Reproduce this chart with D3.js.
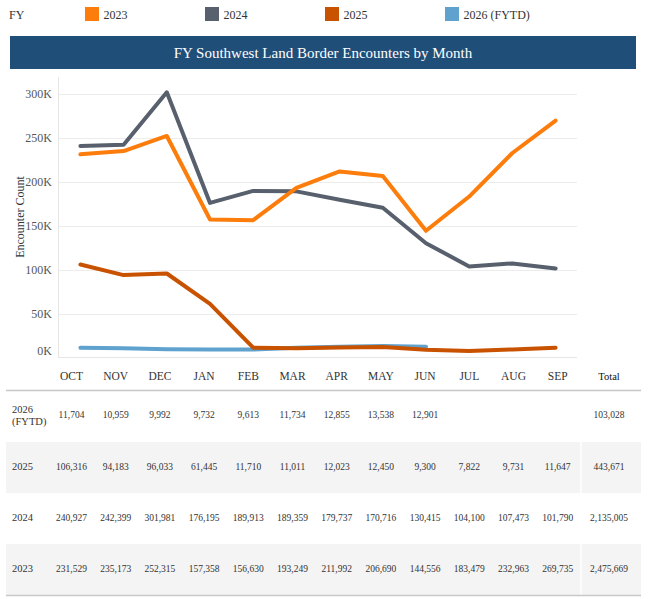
<!DOCTYPE html>
<html>
<head>
<meta charset="utf-8">
<script src="https://cdn.jsdelivr.net/npm/d3@7/dist/d3.min.js"></script>
<style>
  html, body { margin: 0; padding: 0; background: #fff; }
  svg { display: block; }
  svg text { font-family: 'Liberation Serif', Tinos, 'Times New Roman', Times, 'DejaVu Serif', serif; }
</style>
</head>
<body>
<svg id="chart" width="649" height="599" font-family="'Liberation Serif', Tinos, 'Times New Roman', Times, 'DejaVu Serif', serif"></svg>
<script>
// ---- data ----
const months = ["OCT","NOV","DEC","JAN","FEB","MAR","APR","MAY","JUN","JUL","AUG","SEP"];
const fyLabels = ["2023","2024","2025","2026 (FYTD)"];
const fyColors = ["#fc7d0b","#57606c","#c85200","#5fa2ce"];
const fy2023 = [231529,235173,252315,157358,156630,193249,211992,206690,144556,183479,232963,269735];
const fy2024 = [240927,242399,301981,176195,189913,189359,179737,170716,130415,104100,107473,101790];
const fy2025 = [106316,94183,96033,61445,11710,11011,12023,12450,9300,7822,9731,11647];
const fy2026 = [11704,10959,9992,9732,9613,11734,12855,13538,12901];
const totals2023 = 2475669, totals2024 = 2135005, totals2025 = 443671, totals2026 = 103028;
const yTickValues = [0,50000,100000,150000,200000,250000,300000];
const yTickLabels = ["0K","50K","100K","150K","200K","250K","300K"];
const tableRowOrder = ["2026 (FYTD)","2025","2024","2023"];

const seriesByFY = {
  "2023": fy2023, "2024": fy2024, "2025": fy2025, "2026 (FYTD)": fy2026
};
const totalsByFY = {
  "2023": totals2023, "2024": totals2024, "2025": totals2025, "2026 (FYTD)": totals2026
};

const FONT = "'Liberation Serif', Tinos, 'Times New Roman', Times, 'DejaVu Serif', serif";
const svg = d3.select("#chart");
const color = d3.scaleOrdinal().domain(fyLabels).range(fyColors);

// ---- legend ----
const legend = svg.append("g");
legend.append("text").attr("x", 9).attr("y", 18.5).attr("font-size", 12).attr("fill", "#333").text("FY");
const legX = d3.scalePoint().domain(fyLabels).range([85, 445]);
const li = legend.selectAll("g.li").data(fyLabels).join("g").attr("class","li")
  .attr("transform", d => `translate(${legX(d)},7)`);
li.append("rect").attr("width", 14).attr("height", 14).attr("fill", d => color(d));
li.append("text").attr("x", 18.5).attr("y", 11.5).attr("font-size", 12).attr("fill", "#333").text(d => d);

// ---- title band ----
svg.append("rect").attr("x", 10).attr("y", 36).attr("width", 626).attr("height", 33).attr("fill", "#1f4e79");
svg.append("text").attr("x", 323).attr("y", 57.5).attr("text-anchor", "middle")
  .attr("font-size", 15).attr("fill", "#fff").text("FY Southwest Land Border Encounters by Month");

// ---- scales ----
const x = d3.scalePoint().domain(months).range([80.4, 555.6]);
const xCol = d3.scalePoint().domain(months).range([71.5, 557.7]);
const y = d3.scaleLinear().domain([0, 300000]).range([358, 94]);
const plotLeft = 58, plotRight = 577, plotTop = 77, plotBottom = 357.5;

// gridlines
svg.append("g").selectAll("line").data(yTickValues.filter(v => v > 0)).join("line")
  .attr("x1", plotLeft).attr("x2", plotRight)
  .attr("y1", d => y(d) + 0.5).attr("y2", d => y(d) + 0.5)
  .attr("stroke", "#ececec").attr("stroke-width", 1);

// axis frame
svg.append("line").attr("x1", plotLeft + 0.5).attr("x2", plotLeft + 0.5).attr("y1", plotTop).attr("y2", plotBottom)
  .attr("stroke", "#e6e6e6");
svg.append("line").attr("x1", plotLeft).attr("x2", plotRight).attr("y1", plotBottom).attr("y2", plotBottom)
  .attr("stroke", "#e6e6e6");

// y tick labels
svg.append("g").selectAll("text").data(yTickValues).join("text")
  .attr("x", 52).attr("y", (d) => (d === 0 ? y(d) - 7 : y(d)))
  .attr("dy", "0.35em").attr("text-anchor", "end")
  .attr("font-size", 12).attr("fill", "#555")
  .text((d, i) => yTickLabels[i]);

// y axis title
svg.append("text").attr("transform", "translate(24,217) rotate(-90)")
  .attr("text-anchor", "middle").attr("font-size", 12).attr("fill", "#333").text("Encounter Count");

// ---- lines ----
const line = d3.line().x((d, i) => x(months[i])).y(d => y(d));
const drawOrder = ["2026 (FYTD)","2024","2023","2025"];
svg.append("g").selectAll("path").data(drawOrder).join("path")
  .attr("d", d => line(seriesByFY[d]))
  .attr("fill", "none").attr("stroke", d => color(d))
  .attr("stroke-width", 4).attr("stroke-linejoin", "round").attr("stroke-linecap", "round");

// ---- table ----
const rowBand = d3.scaleBand().domain(tableRowOrder).range([391, 595]);
const fmt = d3.format(",");
const table = svg.append("g");

// shaded rows
table.selectAll("rect.row").data(tableRowOrder.filter((d, i) => i % 2 === 1)).join("rect").attr("class","row")
  .attr("x", 6).attr("y", d => rowBand(d)).attr("width", 635).attr("height", rowBand.bandwidth())
  .attr("fill", "#f4f4f4");
// divider before totals
table.append("line").attr("x1", 581).attr("x2", 581).attr("y1", 391).attr("y2", 595)
  .attr("stroke", "#fff").attr("stroke-width", 1.5);

// header lines
table.append("line").attr("x1", 6).attr("x2", 641).attr("y1", 390.5).attr("y2", 390.5)
  .attr("stroke", "#c8c8c8").attr("stroke-width", 1.5);
table.append("line").attr("x1", 6).attr("x2", 641).attr("y1", 595.5).attr("y2", 595.5)
  .attr("stroke", "#c8c8c8").attr("stroke-width", 1.5);

// column headers
table.selectAll("text.hdr").data(months).join("text").attr("class","hdr")
  .attr("x", d => xCol(d)).attr("y", 376).attr("dy", "0.35em").attr("text-anchor", "middle")
  .attr("font-size", 11.5).attr("fill", "#333").text(d => d);
table.append("text").attr("x", 609).attr("y", 376).attr("dy", "0.35em").attr("text-anchor", "middle")
  .attr("font-size", 10.5).attr("fill", "#111").text("Total");

// row labels
tableRowOrder.forEach((fy, ri) => {
  const cy = rowBand(fy) + rowBand.bandwidth() / 2 - 0.7;
  const vy = ri === 0 ? cy - 1.5 : cy;
  const parts = fy.split(" ");
  const t = table.append("text").attr("x", 12).attr("font-size", 10.5).attr("fill", "#333");
  if (parts.length > 1) {
    t.append("tspan").attr("x", 12).attr("y", cy - 6).attr("dy", "0.35em").text(parts[0]);
    t.append("tspan").attr("x", 12).attr("y", cy + 6).attr("dy", "0.35em").text(parts[1]);
  } else {
    t.attr("y", cy).attr("dy", "0.35em").text(fy);
  }
  // values
  table.append("g").selectAll("text").data(seriesByFY[fy]).join("text")
    .attr("x", (d, i) => xCol(months[i])).attr("y", vy).attr("dy", "0.35em")
    .attr("text-anchor", "middle").attr("font-size", 9.5).attr("fill", "#333")
    .text(d => fmt(d));
  table.append("text").attr("x", 609).attr("y", vy).attr("dy", "0.35em")
    .attr("text-anchor", "middle").attr("font-size", 9.5).attr("fill", "#333")
    .text(fmt(totalsByFY[fy]));
});
svg.selectAll("text").attr("font-family", FONT);
</script>
</body>
</html>
